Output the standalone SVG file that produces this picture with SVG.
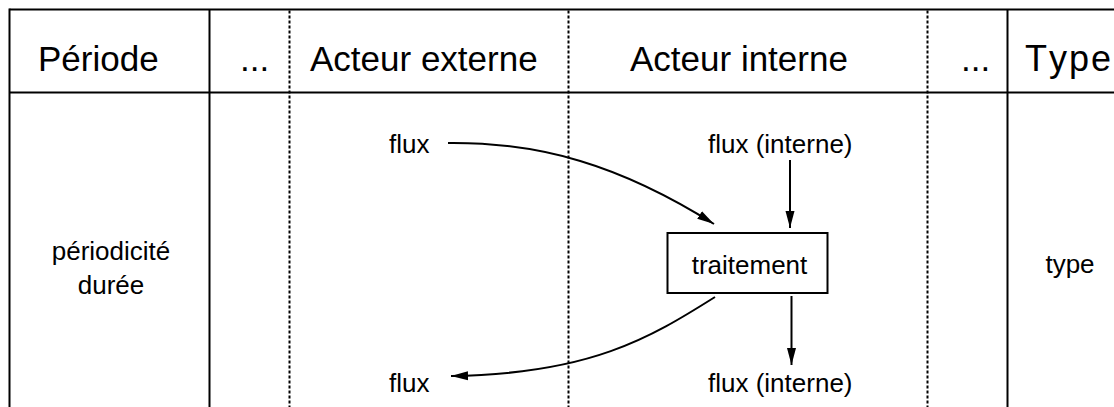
<svg xmlns="http://www.w3.org/2000/svg" width="1114" height="407" viewBox="0 0 1114 407">
<style>
.bg{fill:#fff}
.solid{stroke:#000;stroke-width:2;fill:none}
.dot{stroke:#000;stroke-width:2;fill:none;stroke-dasharray:3,2}
.hd{font-family:"Liberation Sans",Arial,sans-serif;font-size:35px;fill:#000}
.tx{font-family:"Liberation Sans",Arial,sans-serif;font-size:26px;fill:#000}
.conn{stroke:#000;stroke-width:2;fill:none;marker-end:url(#arr)}
.box{fill:#fff;stroke:#000;stroke-width:2}
</style>
<defs>
<marker id="arr" markerUnits="userSpaceOnUse" markerWidth="18" markerHeight="11" refX="17" refY="5" orient="auto" viewBox="0 0 18 10">
<path d="M0,0.5 L17,5 L0,9.5 z" fill="#000"/>
</marker>
</defs>
<rect class="bg" x="0" y="0" width="1114" height="407"/>
<g id="grid">
<line class="solid" x1="9.5" y1="9.5" x2="1114" y2="9.5"/>
<line class="solid" x1="9.5" y1="92.5" x2="1114" y2="92.5"/>
<line class="solid" x1="9.5" y1="8.5" x2="9.5" y2="407"/>
<line class="solid" x1="209.5" y1="9.5" x2="209.5" y2="407"/>
<line class="dot" x1="289.5" y1="10.5" x2="289.5" y2="407"/>
<line class="dot" x1="568.5" y1="10.5" x2="568.5" y2="407"/>
<line class="dot" x1="927.5" y1="10.5" x2="927.5" y2="407"/>
<line class="solid" x1="1007.5" y1="9.5" x2="1007.5" y2="407"/>
</g>
<g id="headers">
<text class="hd" x="38" y="71">Période</text>
<text class="hd" x="240" y="71">...</text>
<text class="hd" x="310" y="71">Acteur externe</text>
<text class="hd" x="630" y="71">Acteur interne</text>
<text class="hd" x="961" y="71">...</text>
<text class="hd" x="1025" y="71" style="font-size:36px;letter-spacing:2px;font-kerning:none">Type</text>
</g>
<g id="periode">
<text class="tx" x="111" y="260" text-anchor="middle">périodicité</text>
<text class="tx" x="111" y="294" text-anchor="middle">durée</text>
</g>
<g id="type">
<text class="tx" x="1070" y="273" text-anchor="middle">type</text>
</g>
<g id="flux-ext-in"><text class="tx" x="389" y="153">flux</text></g>
<g id="flux-int-in"><text class="tx" x="708" y="153">flux (interne)</text></g>
<g id="flux-ext-out"><text class="tx" x="389" y="392">flux</text></g>
<g id="flux-int-out"><text class="tx" x="708" y="392">flux (interne)</text></g>
<g id="traitement">
<rect class="box" x="667.5" y="233" width="160" height="60"/>
<text class="tx" x="749.5" y="274" text-anchor="middle">traitement</text>
</g>
<g id="connectors">
<path class="conn" d="M448,143 C540,142 620,165 714,224"/>
<path class="conn" d="M790,160 L790,228"/>
<path class="conn" d="M791.5,296 L791.5,365"/>
<path class="conn" d="M715,297 C650,338 590,374 451,376"/>
</g>
</svg>
